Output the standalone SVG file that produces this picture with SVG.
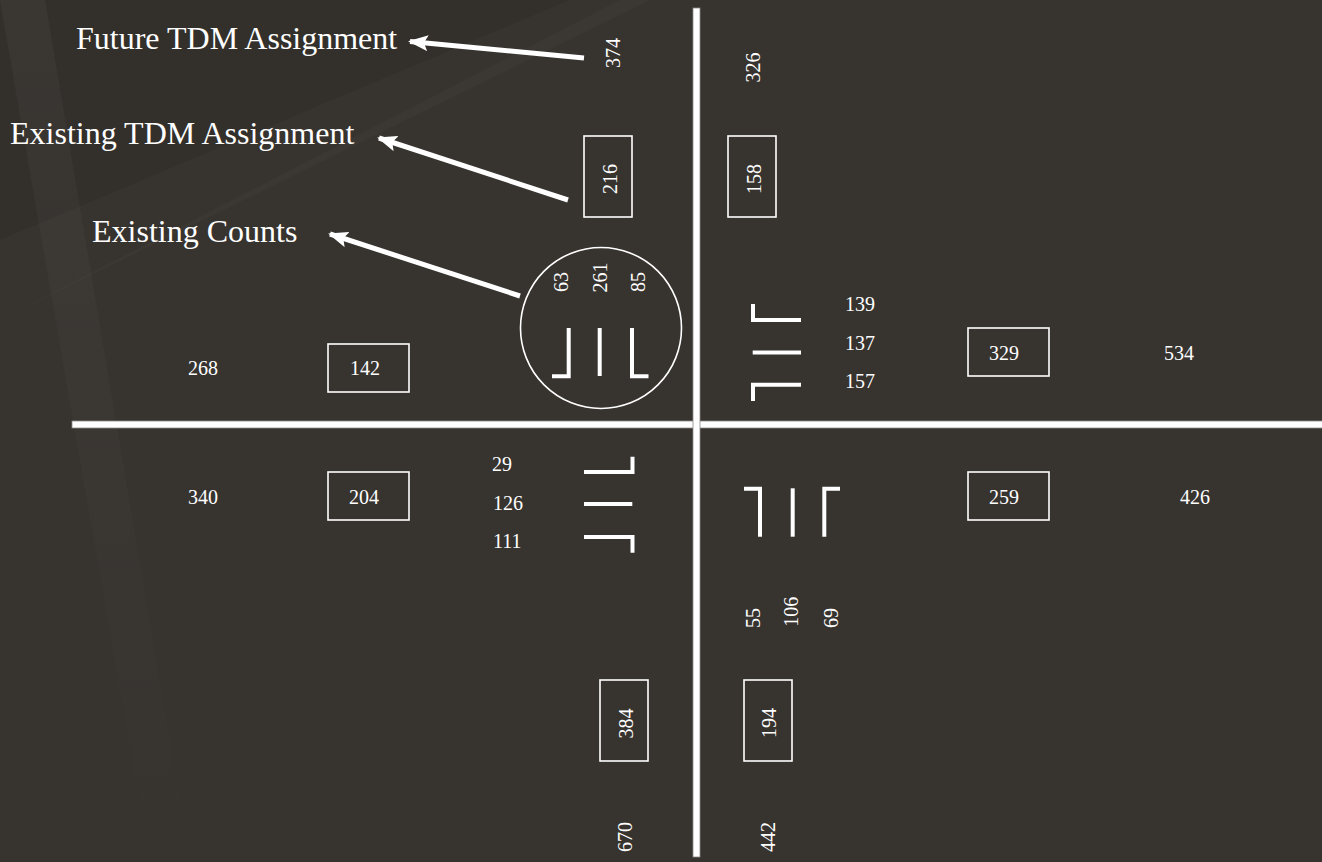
<svg xmlns="http://www.w3.org/2000/svg" width="1322" height="862" viewBox="0 0 1322 862">
  <defs>
    <style>
      text { font-family: "Liberation Serif", "Times New Roman", serif; fill: #ffffff; }
      .lbl { font-size: 32px; }
      .num { font-size: 20px; }
      .box { fill: none; stroke: #ffffff; stroke-width: 1.6; }
      .lane { fill: none; stroke: #ffffff; stroke-width: 4; stroke-linejoin: miter; }
      .road { fill: #ffffff; stroke: #8f8b88; stroke-width: 0.8; }
      .arrow { stroke: #ffffff; stroke-width: 5; fill: none; }
    </style>
    <marker id="head" viewBox="0 0 20 16" refX="18" refY="8" markerWidth="20" markerHeight="16" markerUnits="userSpaceOnUse" orient="auto">
      <path d="M0,0 L20,8 L0,16 L4,8 z" fill="#ffffff"/>
    </marker>
    <linearGradient id="fadeV" x1="0" y1="0" x2="0" y2="1">
      <stop offset="0" stop-color="#ffffff" stop-opacity="0.035"/>
      <stop offset="1" stop-color="#ffffff" stop-opacity="0"/>
    </linearGradient>
  </defs>

  <!-- background -->
  <g id="background">
    <rect x="0" y="0" width="1322" height="862" fill="#37332f"/>
    <polygon points="0,0 620,0 0,320" fill="#000000" opacity="0.07"/>
    <polygon points="0,240 570,0 650,0 0,320" fill="#ffffff" opacity="0.025"/>
    <polygon points="0,0 45,0 190,862 150,862" fill="url(#fadeV)"/>
  </g>

  <!-- roads -->
  <g id="roads">
    <rect class="road" x="72" y="421" width="1252" height="7"/>
    <rect class="road" x="693" y="8" width="7" height="849"/>
  </g>

  <!-- connectors -->
  <g id="connectors">
    <line class="arrow" x1="584" y1="58" x2="410" y2="41.5" marker-end="url(#head)"/>
    <line class="arrow" x1="568" y1="200" x2="379" y2="138" marker-end="url(#head)"/>
    <line class="arrow" x1="520" y1="296" x2="330" y2="234" marker-end="url(#head)"/>
  </g>

  <!-- labels -->
  <g id="label-future">
    <text class="lbl" x="76" y="48.5">Future TDM Assignment</text>
  </g>
  <g id="label-existing-tdm">
    <text class="lbl" x="10" y="144">Existing TDM Assignment</text>
  </g>
  <g id="label-existing-counts">
    <text class="lbl" x="92" y="241.5">Existing Counts</text>
  </g>

  <!-- north approach -->
  <g id="north-future">
    <text class="num" text-anchor="middle" transform="translate(620,53) rotate(-90)">374</text>
  </g>
  <g id="north-existing-tdm">
    <rect class="box" x="584" y="136" width="48" height="81"/>
    <text class="num" text-anchor="middle" transform="translate(617,179) rotate(-90)">216</text>
  </g>
  <g id="north-out-future">
    <text class="num" text-anchor="middle" transform="translate(760,67.5) rotate(-90)">326</text>
  </g>
  <g id="north-out-existing-tdm">
    <rect class="box" x="728" y="136" width="48" height="81"/>
    <text class="num" text-anchor="middle" transform="translate(760.5,179) rotate(-90)">158</text>
  </g>
  <g id="north-counts">
    <circle cx="601" cy="328" r="80.5" fill="none" stroke="#ffffff" stroke-width="1.6"/>
    <text class="num" text-anchor="middle" transform="translate(568,282) rotate(-90)">63</text>
    <text class="num" text-anchor="middle" transform="translate(606.5,277.5) rotate(-90)">261</text>
    <text class="num" text-anchor="middle" transform="translate(645,282) rotate(-90)">85</text>
    <path class="lane" d="M568.7,328 V376.3 H552"/>
    <path class="lane" d="M599.7,328 V376"/>
    <path class="lane" d="M632,328 V376.3 H648.5"/>
  </g>

  <!-- east approach -->
  <g id="east-counts">
    <path class="lane" d="M753,304 V320 H801"/>
    <path class="lane" d="M752.7,352.5 H801"/>
    <path class="lane" d="M801,384.7 H753 V401"/>
    <text class="num" x="845" y="311">139</text>
    <text class="num" x="845" y="350">137</text>
    <text class="num" x="845" y="388">157</text>
  </g>
  <g id="east-existing-tdm-in">
    <rect class="box" x="968" y="328" width="81" height="48"/>
    <text class="num" x="989" y="360">329</text>
  </g>
  <g id="east-future-in">
    <text class="num" x="1164" y="360">534</text>
  </g>
  <g id="east-existing-tdm-out">
    <rect class="box" x="968" y="472" width="81" height="48"/>
    <text class="num" x="989" y="504">259</text>
  </g>
  <g id="east-future-out">
    <text class="num" x="1180" y="504">426</text>
  </g>

  <!-- west approach -->
  <g id="west-future-out">
    <text class="num" x="188" y="375">268</text>
  </g>
  <g id="west-existing-tdm-out">
    <rect class="box" x="328" y="344" width="81" height="48"/>
    <text class="num" x="350" y="375">142</text>
  </g>
  <g id="west-future-in">
    <text class="num" x="188" y="504">340</text>
  </g>
  <g id="west-existing-tdm-in">
    <rect class="box" x="328" y="472" width="81" height="48"/>
    <text class="num" x="349" y="504">204</text>
  </g>
  <g id="west-counts">
    <text class="num" x="492" y="471">29</text>
    <text class="num" x="493" y="510">126</text>
    <text class="num" x="493" y="548">111</text>
    <path class="lane" d="M584,472 H632.5 V456.7"/>
    <path class="lane" d="M584,504 H632.3"/>
    <path class="lane" d="M584,537 H632.5 V552.7"/>
  </g>

  <!-- south approach -->
  <g id="south-counts">
    <path class="lane" d="M744,488.7 H760 V536.7"/>
    <path class="lane" d="M792.7,488.3 V536.7"/>
    <path class="lane" d="M840,488.7 H824.3 V536.7"/>
    <text class="num" text-anchor="middle" transform="translate(760,618) rotate(-90)">55</text>
    <text class="num" text-anchor="middle" transform="translate(798,611.7) rotate(-90)">106</text>
    <text class="num" text-anchor="middle" transform="translate(837.7,618) rotate(-90)">69</text>
  </g>
  <g id="south-existing-tdm-out">
    <rect class="box" x="600" y="680" width="48" height="81"/>
    <text class="num" text-anchor="middle" transform="translate(633,723.5) rotate(-90)">384</text>
  </g>
  <g id="south-existing-tdm-in">
    <rect class="box" x="744" y="680" width="48" height="81"/>
    <text class="num" text-anchor="middle" transform="translate(776,723) rotate(-90)">194</text>
  </g>
  <g id="south-future-out">
    <text class="num" text-anchor="middle" transform="translate(632,837) rotate(-90)">670</text>
  </g>
  <g id="south-future-in">
    <text class="num" text-anchor="middle" transform="translate(775,837) rotate(-90)">442</text>
  </g>
</svg>
